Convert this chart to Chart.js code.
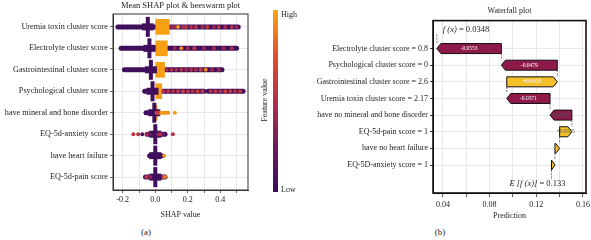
<!DOCTYPE html>
<html>
<head>
<meta charset="utf-8">
<script src="https://cdn.jsdelivr.net/npm/chart.js@4.4.0/dist/chart.umd.min.js"></script>
<style>
  html, body { margin: 0; padding: 0; background: #fff; overflow: hidden; }
  body { width: 591px; height: 240px; position: relative; font-family: 'Liberation Serif', serif; color: #222; }
  .box { position: absolute; }
  #left { left: 0; top: 0; width: 262px; height: 222px; }
  #right { left: 290px; top: 0; width: 310px; height: 222px; }
  #cbar { position: absolute; left: 273px; top: 10px; width: 5px; height: 182px;
    background: linear-gradient(to bottom, #f8a616, #e0502a 25%, #b32e48 50%, #6e1a5e 75%, #3a0c5c); }
  .lbl { position: absolute; font-size: 8px; line-height: 8px; white-space: nowrap; color: #222; }
  .cap { position: absolute; font-size: 9px; line-height: 9px; transform: translateX(-50%); color: #222; }
</style>
</head>
<body>
<div class="box" id="left"><canvas id="beeswarm"></canvas></div>
<div class="box" id="right"><canvas id="waterfall"></canvas></div>
<div id="cbar"></div>
<div class="lbl" style="left:281px; top:11px;">High</div>
<div class="lbl" style="left:281px; top:186px;">Low</div>
<div class="lbl" style="left:265px; top:100px; transform: translate(-50%,-50%) rotate(-90deg);">Feature value</div>
<div class="cap" style="left:146px; top:228px;">(a)</div>
<div class="cap" style="left:440px; top:228px;">(b)</div>
<script>
// ---- beeswarm / mean SHAP data ----
const features = ['Uremia toxin cluster score', 'Electrolyte cluster score', 'Gastrointestinal cluster score',
    'Psychological cluster score', 'have mineral and bone disorder', 'EQ-5d-anxiety score',
    'have heart failure', 'EQ-5d-pain score'];
const meanShap = [0.086, 0.074, 0.057, 0.040, 0.012, 0.004, 0.003, 0.004];
// dense part of each swarm row, [from, to] in SHAP units
const swarmSegments = [
    [[-0.23, 0.51]],
    [[-0.21, 0.50]],
    [[-0.19, 0.41]],
    [[-0.065, 0.30], [0.325, 0.54]],
    [[-0.057, 0.0]],
    [[-0.05, 0.06]],
    [[-0.035, 0.04]],
    [[-0.06, 0.06]]
];
const swarmCenters = [-0.046, -0.036, -0.027, -0.017, -0.006, 0.0, 0.0, 0.0];
// single visible dots: [SHAP value, feature level 0..1]
const swarmDots = [
    [[0.10, 0.45], [0.12, 0.5], [0.14, 0.95], [0.17, 0.55], [0.19, 0.6], [0.22, 0.55], [0.25, 0.6],
     [0.29, 0.5], [0.32, 0.6], [0.36, 0.45], [0.39, 0.6], [0.43, 0.5], [0.47, 0.55], [0.50, 0.45]],
    [[0.12, 0.45], [0.16, 0.9], [0.20, 0.5], [0.24, 0.6], [0.30, 0.45], [0.36, 0.5], [0.42, 0.45], [0.47, 0.5]],
    [[0.07, 0.5], [0.10, 0.55], [0.13, 0.5], [0.16, 0.55], [0.19, 0.5], [0.22, 0.55], [0.25, 0.5],
     [0.28, 0.65], [0.31, 0.9], [0.35, 0.5], [0.39, 0.45]],
    [[0.05, 0.55], [0.08, 0.6], [0.11, 0.55], [0.14, 0.6], [0.17, 0.65], [0.20, 0.6], [0.23, 0.55],
     [0.26, 0.65], [0.29, 0.6], [0.34, 0.55], [0.37, 0.6], [0.40, 0.55], [0.43, 0.65], [0.46, 0.6],
     [0.49, 0.55], [0.52, 0.6]],
    [[0.01, 0.9], [0.02, 0.95], [0.03, 0.95], [0.045, 0.95], [0.055, 0.95], [0.07, 0.95], [0.08, 0.95],
     [0.12, 0.95], [0.015, 0.6]],
    [[-0.135, 0.6], [-0.105, 0.6], [-0.08, 0.1], [-0.05, 0.55], [-0.035, 0.3], [0.02, 0.5], [0.035, 0.55],
     [0.05, 0.25], [0.108, 0.55]],
    [[0.055, 0.95]],
    [[-0.055, 0.6], [-0.03, 0.45], [0.05, 0.6], [0.06, 0.9]]
];
const shapTicks = [-0.2, 0.0, 0.2, 0.4];

// ---- waterfall data ----
const wfLabels = ['Electrolyte cluster score = 0.8', 'Psychological cluster score = 0',
    'Gastrointestinal cluster score = 2.6', 'Uremia toxin cluster score = 2.17',
    'have no mineral and bone disorder', 'EQ-5d-pain score = 1', 'have no heart failure',
    'EQ-5D-anxiety score = 1'];
const wfContrib = [-0.0553, -0.0479, 0.0433, -0.0371, -0.0187, 0.0105, 0.004, 0.003];
const wfText = ['-0.0553', '-0.0479', '+0.0433', '-0.0371', '-0.0187', '+0.0105', '', ''];
const wfBase = 0.133;
const wfFx = 0.0348;

Chart.defaults.font.family = "'Liberation Serif', serif";
Chart.defaults.color = '#222';

const cmapStops = [[0, [58, 12, 92]], [0.3, [112, 26, 94]], [0.55, [180, 46, 72]], [0.75, [224, 80, 42]], [1, [248, 166, 22]]];
function cmap(t) {
    for (let i = 1; i < cmapStops.length; i++) {
        const [t1, c1] = cmapStops[i];
        const [t0, c0] = cmapStops[i - 1];
        if (t <= t1) {
            const f = (t - t0) / (t1 - t0);
            const c = c0.map((v, k) => Math.round(v + (c1[k] - v) * f));
            return `rgb(${c[0]},${c[1]},${c[2]})`;
        }
    }
    return 'rgb(248,166,22)';
}

const frame = (width, color) => ({
    id: 'frame',
    afterDraw(chart) {
        const { ctx, chartArea: a } = chart;
        ctx.save();
        ctx.strokeStyle = color;
        ctx.lineWidth = width;
        ctx.strokeRect(a.left, a.top, a.right - a.left, a.bottom - a.top);
        ctx.restore();
    }
});

// ---- left panel ----
const purple = '#3f0f5c';
const dots = swarmDots.flatMap((row, i) => row.map(([x, c]) => ({ x: x, y: i, c: c })));
const centers = swarmCenters.map((c, i) => ({ x: c, y: i }));
const leftSets = [{
    type: 'scatter',
    order: 0,
    data: dots,
    pointRadius: 2,
    pointBorderWidth: 0,
    pointBackgroundColor: dots.map(d => cmap(d.c))
}, {
    // vertical arm of the dense cluster
    type: 'scatter',
    order: 1,
    data: centers,
    pointStyle: 'line',
    pointRotation: 90,
    pointRadius: 10,
    pointBorderWidth: 4,
    pointBorderColor: purple
}, {
    // horizontal body of the dense cluster
    type: 'scatter',
    order: 1,
    data: centers,
    pointStyle: 'line',
    pointRadius: 6,
    pointBorderWidth: 7,
    pointBorderColor: purple
}, {
    type: 'bar',
    indexAxis: 'y',
    order: 2,
    data: meanShap.map((v, i) => ({ x: v, y: i })),
    backgroundColor: '#f7a014',
    barThickness: 15
}];
swarmSegments.forEach((segs, i) => {
    segs.forEach(([a, b]) => {
        leftSets.push({ type: 'scatter', order: 3, showLine: true, pointRadius: 0, borderColor: purple,
            borderWidth: 5, borderCapStyle: 'round', data: [{ x: a, y: i }, { x: b, y: i }] });
    });
});

new Chart(document.getElementById('beeswarm'), {
    type: 'scatter',
    data: { datasets: leftSets },
    options: {
        responsive: true,
        maintainAspectRatio: false,
        animation: false,
        events: [],
        layout: { padding: { right: 5 } },
        plugins: {
            legend: { display: false },
            tooltip: { enabled: false },
            title: { display: true, text: 'Mean SHAP plot & beeswarm plot', fullSize: false,
                font: { size: 8.5, weight: 'normal' }, padding: { top: 0, bottom: 3 } }
        },
        scales: {
            x: {
                type: 'linear', min: -0.26, max: 0.57, offset: false, beginAtZero: false,
                afterBuildTicks: s => { s.ticks = [-0.2, -0.1, 0, 0.1, 0.2, 0.3, 0.4, 0.5].map(v => ({ value: v })); },
                ticks: {
                    font: { size: 8 }, padding: 2, maxRotation: 0, autoSkip: false,
                    callback: v => shapTicks.some(t => Math.abs(t - v) < 1e-9) ? v.toFixed(1) : ''
                },
                grid: { color: '#e8e8e8', tickLength: 3, tickColor: '#666', offset: false },
                border: { color: '#333' },
                title: { display: true, text: 'SHAP value', font: { size: 8 }, padding: { top: 0, bottom: 2 } },
                afterFit: s => { s.height = 32; }
            },
            y: {
                type: 'linear', reverse: true, min: -0.6, max: 7.6, offset: false,
                afterBuildTicks: s => { s.ticks = features.map((_, i) => ({ value: i })); },
                ticks: { font: { size: 8.2 }, padding: 2, autoSkip: false, callback: v => features[v] },
                grid: { color: '#e8e8e8', tickLength: 3, tickColor: '#666', offset: false },
                border: { color: '#333' },
                afterFit: s => { s.width = 113; }
            }
        }
    },
    plugins: [frame(1, '#333')]
});

// ---- right panel ----
const wfStart = [], wfEnd = [];
let run = wfBase;
for (let i = wfContrib.length - 1; i >= 0; i--) {
    wfStart[i] = run;
    run += wfContrib[i];
    wfEnd[i] = run;
}

const arrows = {
    id: 'arrows',
    beforeDatasetDraw() { return false; },
    afterDatasetsDraw(chart) {
        const { ctx, scales: { x, y } } = chart;
        const meta = chart.getDatasetMeta(0);
        const ds = chart.data.datasets[0];
        ctx.save();
        // dashed connectors
        ctx.strokeStyle = '#555';
        ctx.lineWidth = 0.8;
        ctx.setLineDash([2, 1.2]);
        const seg = (v, a, b) => {
            ctx.beginPath();
            ctx.moveTo(x.getPixelForValue(v), y.getPixelForValue(a));
            ctx.lineTo(x.getPixelForValue(v), y.getPixelForValue(b));
            ctx.stroke();
        };
        for (let i = 0; i < wfStart.length - 1; i++) seg(wfStart[i], i + 0.3, i + 0.7);
        seg(wfFx, -0.85, -0.3);
        seg(wfBase, wfStart.length - 0.7, wfStart.length - 0.1);
        ctx.setLineDash([]);
        meta.data.forEach((bar, i) => {
            const s = x.getPixelForValue(wfStart[i]);
            const e = x.getPixelForValue(wfEnd[i]);
            const d = Math.sign(e - s);
            const h = bar.height;
            const yc = bar.y;
            const tip = Math.min(4, Math.abs(e - s));
            ctx.beginPath();
            ctx.moveTo(s, yc - h / 2);
            ctx.lineTo(e - d * tip, yc - h / 2);
            ctx.lineTo(e, yc);
            ctx.lineTo(e - d * tip, yc + h / 2);
            ctx.lineTo(s, yc + h / 2);
            ctx.closePath();
            ctx.fillStyle = ds.backgroundColor[i];
            ctx.fill();
            ctx.strokeStyle = '#111';
            ctx.lineWidth = 1;
            ctx.stroke();
            if (wfText[i]) {
                ctx.font = "5.5px 'Liberation Serif'";
                ctx.textAlign = 'center';
                ctx.textBaseline = 'middle';
                ctx.fillStyle = Math.abs(e - s) > 25 ? '#fff' : '#555';
                ctx.fillText(wfText[i], (s + e) / 2, yc);
            }
        });
        // f(x) and E[f(x)] notes
        ctx.fillStyle = '#222';
        ctx.textBaseline = 'middle';
        ctx.textAlign = 'left';
        const fxX = x.getPixelForValue(wfFx) + 6, fxY = y.getPixelForValue(-1.15);
        ctx.font = "italic 8.5px 'Liberation Serif'";
        ctx.fillText('f (x)', fxX, fxY);
        const w1 = ctx.measureText('f (x)').width;
        ctx.font = "8.5px 'Liberation Serif'";
        ctx.fillText(' = ' + wfFx, fxX + w1, fxY);
        ctx.textAlign = 'right';
        const bX = x.getPixelForValue(wfBase) + 14, bY = y.getPixelForValue(wfStart.length + 0.1);
        ctx.fillText(' = ' + wfBase, bX, bY);
        const w2 = ctx.measureText(' = ' + wfBase).width;
        ctx.font = "italic 8.5px 'Liberation Serif'";
        ctx.fillText('E [f (x)]', bX - w2, bY);
        ctx.restore();
    }
};

new Chart(document.getElementById('waterfall'), {
    type: 'bar',
    data: {
        datasets: [{
            data: wfContrib.map((_, i) => ({ y: i, x: [wfStart[i], wfEnd[i]] })),
            backgroundColor: wfContrib.map(v => v > 0 ? '#f4c02a' : '#8e1a4a'),
            barThickness: 10
        }]
    },
    options: {
        indexAxis: 'y',
        responsive: true,
        maintainAspectRatio: false,
        animation: false,
        events: [],
        layout: { padding: { right: 14 } },
        plugins: {
            legend: { display: false },
            tooltip: { enabled: false },
            title: { display: true, text: 'Waterfall plot', fullSize: false,
                font: { size: 8, weight: 'normal' }, padding: { top: 6, bottom: 5 } }
        },
        scales: {
            x: {
                type: 'linear', min: 0.0315, max: 0.1626, offset: false,
                afterBuildTicks: s => { s.ticks = [0.04, 0.06, 0.08, 0.10, 0.12, 0.14, 0.16].map(v => ({ value: v })); },
                ticks: {
                    font: { size: 8 }, padding: 3, maxRotation: 0, autoSkip: false,
                    callback: v => [0.04, 0.08, 0.12, 0.16].some(t => Math.abs(t - v) < 1e-9) ? v.toFixed(2) : ''
                },
                grid: { color: '#e8e8e8', tickLength: 4, tickColor: '#666', offset: false },
                border: { color: '#111' },
                title: { display: true, text: 'Prediction', font: { size: 8 }, padding: { top: 0, bottom: 1 } },
                afterFit: s => { s.height = 29; }
            },
            y: {
                type: 'linear', reverse: true, min: -1.68, max: 8.68, offset: false,
                afterBuildTicks: s => { s.ticks = wfLabels.map((_, i) => ({ value: i })); },
                ticks: { font: { size: 8 }, padding: 2, autoSkip: false, callback: v => wfLabels[v] },
                grid: { color: '#e8e8e8', tickLength: 3, tickColor: '#333', offset: false },
                border: { color: '#111' },
                afterFit: s => { s.width = 143; }
            }
        }
    },
    plugins: [arrows, frame(1.6, '#111')]
});
</script>
</body>
</html>
